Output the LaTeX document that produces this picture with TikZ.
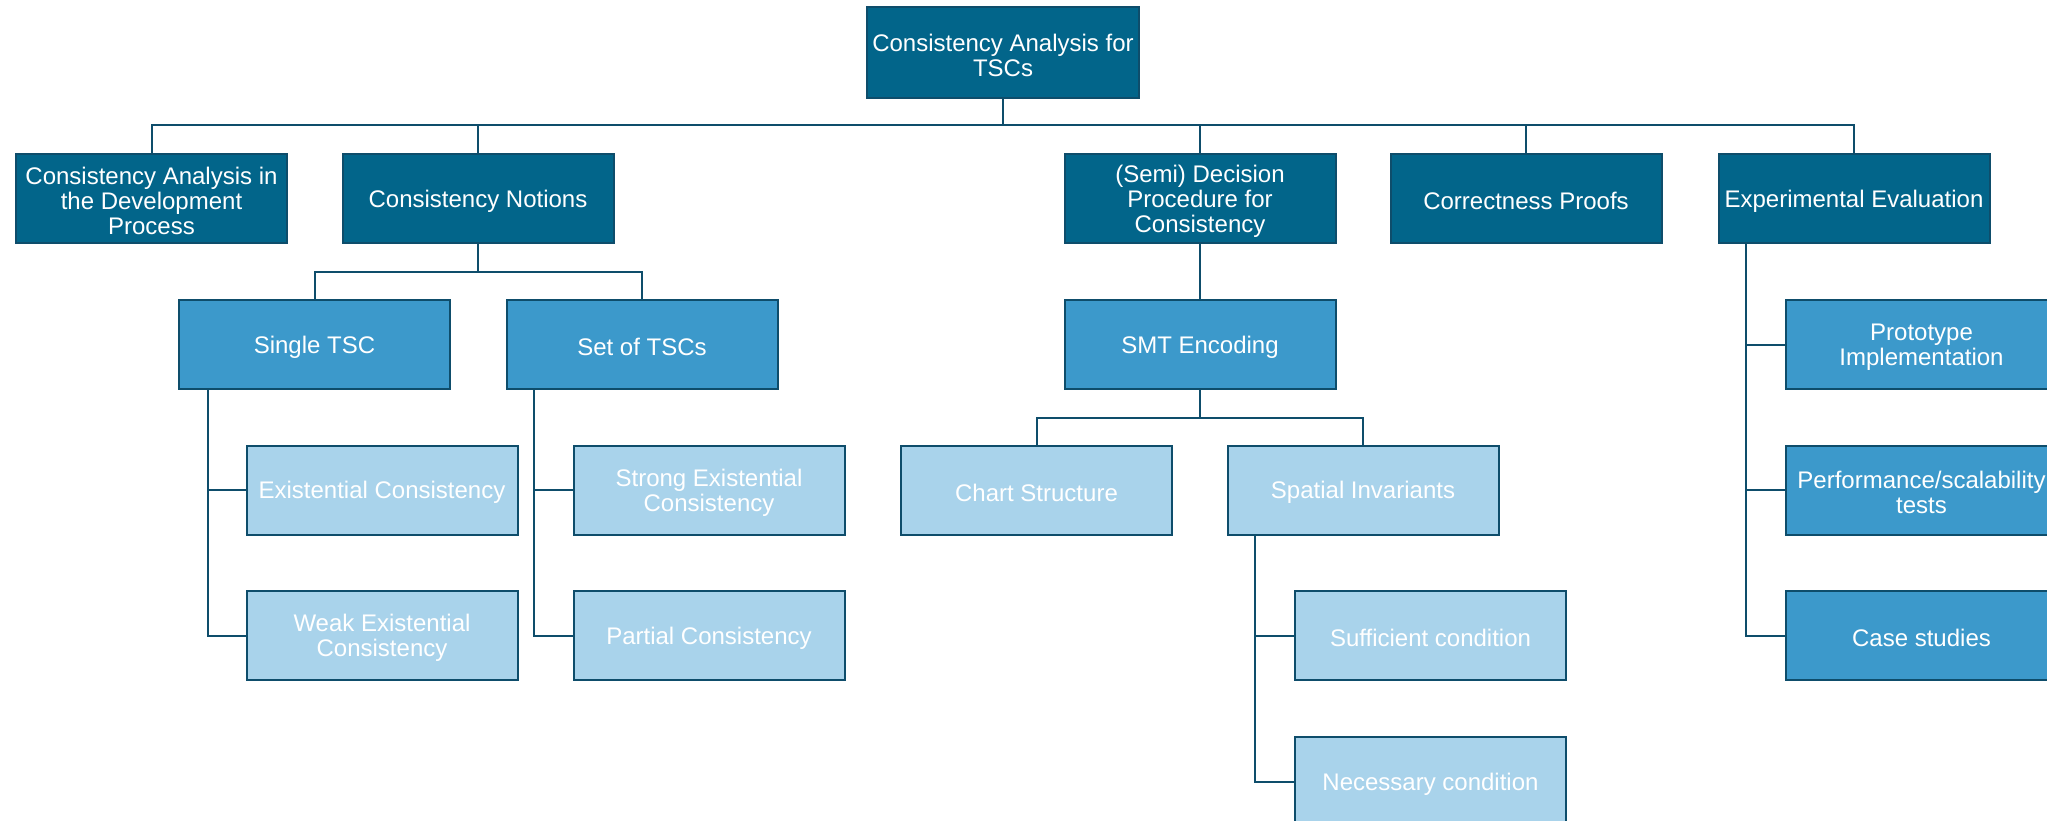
\documentclass[tikz,border=0pt]{standalone}
\usepackage{fontspec}
\setmainfont{Liberation Sans}
\definecolor{darkfill}{HTML}{02658A}
\definecolor{midfill}{HTML}{3C99CB}
\definecolor{lightfill}{HTML}{A9D3EB}
\definecolor{edgecol}{HTML}{0E4D6B}
\begin{document}
\begin{tikzpicture}[x=1pt,y=-1pt,
  box/.style={draw=edgecol, line width=2pt, minimum width=271pt, minimum height=89pt,
    inner sep=0pt},
  lbl/.style={inner sep=0pt, align=center, text=white,
    font=\fontsize{24}{25}\selectfont, yshift=-2.5pt},
  lvlone/.style={box, fill=darkfill, label={[lbl]center:{#1}}},
  lvltwo/.style={box, fill=midfill, label={[lbl]center:{#1}}},
  lvlthree/.style={box, fill=lightfill, label={[lbl]center:{#1}}},
  conn/.style={draw=edgecol, line width=2pt}]
\useasboundingbox (0,0) rectangle (2047,821);
\clip (0,0) rectangle (2047,821);
\fill[white] (0,0) rectangle (2047,821);

% bus / branch coordinates
\coordinate (busroot) at (0,125);
\coordinate (busB) at (0,271.5);
\coordinate (busSMT) at (0,417.8);
\coordinate (xSingle) at (207.6,0);
\coordinate (xSet) at (534,0);
\coordinate (xSpatial) at (1254.6,0);
\coordinate (xE) at (1745.5,0);

% nodes
\node[lvlone={Consistency Analysis for\\TSCs}, minimum width=272pt, minimum height=91pt] (root) at (1003,52.5) {};

\node[lvlone={Consistency Analysis in\\the Development\\Process}] (A) at (151.5,198.5) {};
\node[lvlone={Consistency Notions}] (B) at (478,198.5) {};
\node[lvlone={(Semi) Decision\\Procedure for\\Consistency}] (C) at (1200,198.5) {};
\node[lvlone={Correctness Proofs}] (D) at (1526,198.5) {};
\node[lvlone={Experimental Evaluation}] (E) at (1854,198.5) {};

\node[lvltwo={Single TSC}] (single) at (314.5,344.5) {};
\node[lvltwo={Set of TSCs}] (set) at (642,344.5) {};
\node[lvltwo={SMT Encoding}] (smt) at (1200,344.5) {};
\node[lvltwo={Prototype\\Implementation}] (proto) at (1921.5,344.5) {};
\node[lvltwo={Performance/scalability\\tests}] (perf) at (1921.5,490) {};
\node[lvltwo={Case studies}] (case) at (1921.5,635.5) {};

\node[lvlthree={Existential Consistency}] (exist) at (382,490) {};
\node[lvlthree={Weak Existential\\Consistency}] (weak) at (382,635.5) {};
\node[lvlthree={Strong Existential\\Consistency}] (strong) at (709,490) {};
\node[lvlthree={Partial Consistency}] (partial) at (709,635.5) {};
\node[lvlthree={Chart Structure}] (chart) at (1036.5,490) {};
\node[lvlthree={Spatial Invariants}] (spatial) at (1363,490) {};
\node[lvlthree={Sufficient condition}] (suff) at (1430.5,635.5) {};
\node[lvlthree={Necessary condition}] (nec) at (1430.5,781.5) {};

% connectors: root level
\foreach \c in {A,B,C,D,E}{
  \draw[conn] (root.south) -- (root.south |- busroot) -| (\c.north);
}
% Consistency Notions
\foreach \c in {single,set}{
  \draw[conn] (B.south) -- (B.south |- busB) -| (\c.north);
}
% Decision procedure
\draw[conn] (C.south) -- (smt.north);
\foreach \c in {chart,spatial}{
  \draw[conn] (smt.south) -- (smt.south |- busSMT) -| (\c.north);
}
% side branches
\foreach \c in {exist,weak}{
  \draw[conn] (single.south -| xSingle) |- (\c.west);
}
\foreach \c in {strong,partial}{
  \draw[conn] (set.south -| xSet) |- (\c.west);
}
\foreach \c in {suff,nec}{
  \draw[conn] (spatial.south -| xSpatial) |- (\c.west);
}
\foreach \c in {proto,perf,case}{
  \draw[conn] (E.south -| xE) |- (\c.west);
}
\end{tikzpicture}
\end{document}
